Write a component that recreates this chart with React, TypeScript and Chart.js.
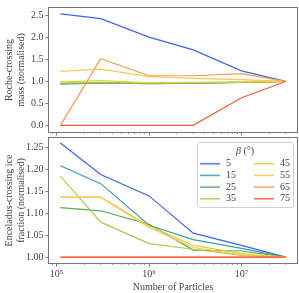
import React, { useEffect, useRef } from 'react';
import { Chart, registerables } from 'chart.js';
Chart.register(...registerables);

// ---------- data ----------
const particles = [1.1e5, 3e5, 1e6, 3e6, 1e7, 3e7];
const betaLabels = ['5', '15', '25', '35', '45', '55', '65', '75'];
const betaColors = ['#3f63f0', '#3a9bb0', '#5aac5a', '#a8cc50', '#e2d22e', '#fcc75a', '#fc9b48', '#f85a3a'];

const roche5 = [2.54, 2.43, 2.01, 1.72, 1.24, 1.0];
const roche15 = [0.95, 0.97, 0.95, 0.96, 0.98, 1.0];
const roche25 = [0.94, 0.96, 0.95, 0.96, 0.98, 1.0];
const roche35 = [0.96, 0.97, 0.96, 0.97, 0.98, 1.0];
const roche45 = [0.99, 1.02, 0.97, 0.98, 0.99, 1.0];
const roche55 = [1.23, 1.28, 1.11, 1.07, 1.04, 1.0];
const roche65 = [0.0, 1.52, 1.13, 1.13, 1.18, 1.0];
const roche75 = [0.0, 0.0, 0.0, 0.0, 0.63, 1.0];
const rocheSeries = [roche5, roche15, roche25, roche35, roche45, roche55, roche65, roche75];

const ice5 = [1.261, 1.189, 1.14, 1.055, 1.027, 1.0];
const ice15 = [1.209, 1.168, 1.073, 1.04, 1.02, 1.0];
const ice25 = [1.113, 1.106, 1.075, 1.016, 1.014, 1.0];
const ice35 = [1.185, 1.08, 1.031, 1.018, 1.004, 1.0];
const ice45 = [1.137, 1.137, 1.071, 1.027, 1.008, 1.0];
const ice55 = [1.137, 1.137, 1.068, 1.022, 1.005, 1.0];
const ice65 = [1.0, 1.0, 1.0, 1.0, 1.0, 1.0];
const ice75 = [1.0, 1.0, 1.0, 1.0, 1.0, 1.0];
const iceSeries = [ice5, ice15, ice25, ice35, ice45, ice55, ice65, ice75];

const rocheTicks = [0, 0.5, 1.0, 1.5, 2.0, 2.5];
const rocheTickLabels = ['0.0', '0.5', '1.0', '1.5', '2.0', '2.5'];
const iceTicks = [1.0, 1.05, 1.1, 1.15, 1.2, 1.25];
const iceTickLabels = ['1.00', '1.05', '1.10', '1.15', '1.20', '1.25'];
const xMajorTicks = [1e5, 1e6, 1e7];
const xMajorLabels = ['10⁵', '10⁶', '10⁷'];
const xMinorTicks = [9e4, 2e5, 3e5, 4e5, 5e5, 6e5, 7e5, 8e5, 9e5, 2e6, 3e6, 4e6, 5e6, 6e6, 7e6, 8e6, 9e6, 2e7, 3e7];

const X_MIN = Math.pow(10, 4.918);
const X_MAX = Math.pow(10, 7.599);
const FONT = 'Liberation Serif';
const TEXT = '#444';

const framePlugin = {
  id: 'frame',
  afterDraw(chart: any) {
    const { ctx, chartArea: a } = chart;
    ctx.save();
    ctx.strokeStyle = '#777';
    ctx.lineWidth = 1;
    ctx.strokeRect(Math.round(a.left) - 0.5, Math.round(a.top) - 0.5, Math.round(a.right - a.left) + 1, Math.round(a.bottom - a.top) + 1);
    ctx.restore();
  },
};

const legendPlugin = {
  id: 'betaLegend',
  afterDraw(chart: any) {
    const { ctx, chartArea: a } = chart;
    const boxW = 96, boxH = 65;
    const x0 = a.right - 4 - boxW;
    const y0 = a.top + 4;
    ctx.save();
    ctx.beginPath();
    (ctx as any).roundRect(x0 + 0.5, y0 + 0.5, boxW, boxH, 2);
    ctx.fillStyle = 'rgba(255,255,255,0.8)';
    ctx.fill();
    ctx.strokeStyle = '#d0d0d0';
    ctx.lineWidth = 1;
    ctx.stroke();
    // title
    ctx.fillStyle = TEXT;
    ctx.textBaseline = 'middle';
    const cx = x0 + boxW / 2;
    ctx.font = `italic 10px ${FONT}`;
    const bW = ctx.measureText('β').width;
    ctx.font = `10px ${FONT}`;
    const rW = ctx.measureText(' (°)').width;
    const tx = cx - (bW + rW) / 2;
    ctx.textAlign = 'left';
    ctx.font = `italic 10px ${FONT}`;
    ctx.fillText('β', tx, y0 + 9);
    ctx.font = `10px ${FONT}`;
    ctx.fillText(' (°)', tx + bW, y0 + 9);
    chart.data.datasets.forEach((ds: any, i: number) => {
      const col = Math.floor(i / 4);
      const row = i % 4;
      const lx = x0 + 3 + col * 54;
      const ly = y0 + 21.7 + row * 11.7;
      ctx.strokeStyle = ds.borderColor;
      ctx.globalAlpha = 0.85;
      ctx.lineWidth = 1.6;
      ctx.beginPath();
      ctx.moveTo(lx, ly);
      ctx.lineTo(lx + 20, ly);
      ctx.stroke();
      ctx.globalAlpha = 1;
      ctx.fillStyle = TEXT;
      ctx.fillText(ds.label, lx + 26, ly);
    });
    ctx.restore();
  },
};

function makeDatasets(series: number[][]) {
  return series.map((vals, i) => ({
    label: betaLabels[i],
    data: particles.map((p, j) => ({ x: p, y: vals[j] })),
    borderColor: betaColors[i],
    backgroundColor: betaColors[i],
    borderWidth: 1.2,
    pointRadius: 0,
    tension: 0,
    order: -i,
  }));
}

function xScales(showLabels: boolean, height: number) {
  return {
    x: {
      type: 'logarithmic',
      position: 'bottom',
      weight: 1,
      min: X_MIN,
      max: X_MAX,
      afterBuildTicks: (s: any) => { s.ticks = xMajorTicks.map((v) => ({ value: v, major: true })); },
      afterFit: (s: any) => { s.height = height; },
      ticks: {
        display: showLabels,
        autoSkip: false,
        maxRotation: 0,
        padding: 2,
        color: TEXT,
        font: { family: FONT, size: 10 },
        callback: (_v: any, i: number) => xMajorLabels[i],
      },
      grid: { drawOnChartArea: false, tickLength: 3.5, tickColor: '#555', tickWidth: 0.8 },
      border: { display: false },
      title: {
        display: showLabels,
        text: 'Number of Particles',
        color: TEXT,
        font: { family: FONT, size: 10, lineHeight: 1.15 },
        padding: { top: 0, bottom: 0 },
      },
    },
    x2: {
      type: 'logarithmic',
      position: 'bottom',
      weight: 0,
      min: X_MIN,
      max: X_MAX,
      afterBuildTicks: (s: any) => { s.ticks = xMinorTicks.map((v) => ({ value: v })); },
      afterFit: (s: any) => { s.height = 0; },
      ticks: { display: false, autoSkip: false },
      grid: { drawOnChartArea: false, tickLength: 2, tickColor: '#555', tickWidth: 0.6 },
      border: { display: false },
    },
  };
}

function yScale(min: number, max: number, ticks: number[], labels: string[], title: string[]) {
  return {
    type: 'linear',
    position: 'left',
    min,
    max,
    afterBuildTicks: (s: any) => { s.ticks = ticks.map((v) => ({ value: v })); },
    afterFit: (s: any) => { s.width = 49; },
    ticks: {
      padding: 2,
      color: TEXT,
      font: { family: FONT, size: 10 },
      callback: (_v: any, i: number) => labels[i],
    },
    grid: { drawOnChartArea: false, tickLength: 3.5, tickColor: '#555', tickWidth: 0.8 },
    border: { display: false },
    title: {
      display: true,
      text: title,
      color: TEXT,
      font: { family: FONT, size: 10, lineHeight: 1.15 },
      padding: { top: 4, bottom: 0 },
    },
  };
}

export default function App() {
  const topRef = useRef<HTMLCanvasElement>(null);
  const botRef = useRef<HTMLCanvasElement>(null);

  useEffect(() => {
    const top = new Chart(topRef.current as HTMLCanvasElement, {
      type: 'line',
      data: { datasets: makeDatasets(rocheSeries) as any },
      options: {
        animation: false,
        responsive: false,
        devicePixelRatio: 1,
        parsing: true,
        layout: { padding: { left: 0, right: 2, top: 3, bottom: 7 } },
        plugins: { legend: { display: false }, tooltip: { enabled: false } },
        scales: {
          ...xScales(false, 0),
          y: yScale(-0.152, 2.674, rocheTicks, rocheTickLabels, ['Roche-crossing', 'mass (normalised)']),
        } as any,
      },
      plugins: [framePlugin],
    });
    const bot = new Chart(botRef.current as HTMLCanvasElement, {
      type: 'line',
      data: { datasets: makeDatasets(iceSeries) as any },
      options: {
        animation: false,
        responsive: false,
        devicePixelRatio: 1,
        layout: { padding: { left: 0, right: 2, top: 5, bottom: 0 } },
        plugins: { legend: { display: false }, tooltip: { enabled: false } },
        scales: {
          ...xScales(true, 30),
          y: yScale(0.9866, 1.2724, iceTicks, iceTickLabels, ['Enceladus-crossing ice', 'fraction (normalised)']),
        } as any,
      },
      plugins: [framePlugin, legendPlugin],
    });
    return () => {
      top.destroy();
      bot.destroy();
    };
  }, []);

  return (
    <div style={{ position: 'absolute', left: 0, top: 0, width: 299, height: 293, background: '#fff' }}>
      <canvas ref={topRef} width={299} height={140} style={{ position: 'absolute', left: 0, top: 0, width: 299, height: 140 }} />
      <canvas ref={botRef} width={299} height={163} style={{ position: 'absolute', left: 0, top: 130, width: 299, height: 163 }} />
    </div>
  );
}
